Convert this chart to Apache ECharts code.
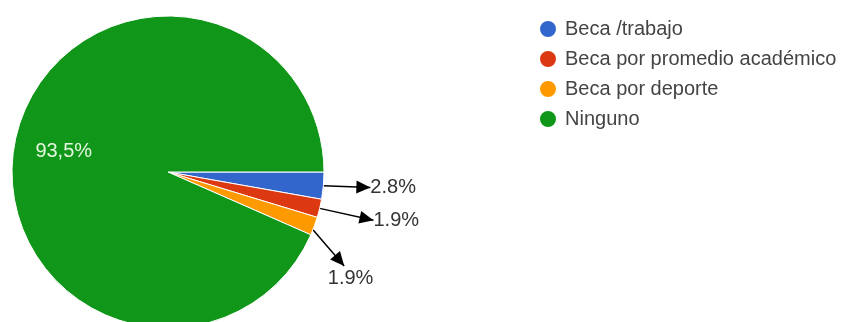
<!DOCTYPE html>
<html><head><meta charset="utf-8">
<script src="https://cdn.jsdelivr.net/npm/echarts@6/dist/echarts.min.js"></script>
<style>html,body{margin:0;padding:0;background:#fff}#c{width:851px;height:322px}</style>
</head><body><div id="c"></div>
<script>
const categories = ['Beca /trabajo', 'Beca por promedio académico', 'Beca por deporte', 'Ninguno'];
const percents = [2.8, 1.9, 1.9, 93.5];
const decimalSeparators = ['.', '.', '.', ','];
const colors = ['#3366cc', '#dc3912', '#ff9900', '#109618'];

const FONT = "'Liberation Sans', Arial, sans-serif";
const chart = echarts.init(document.getElementById('c'), null, {renderer: 'canvas'});

// label offsets (style only, relative to library-computed label rects)
const labelShift = [[28, 1], [35, 10], [1, 50], [-25, -4]];

const data = categories.map((name, i) => {
  const item = {name: name, value: percents[i], itemStyle: {color: colors[i]}};
  if (i === 3) {
    item.label = {position: 'inside', color: '#e4f6df', fontSize: 20};
    item.labelLine = {show: false};
  } else if (i === 2) {
    item.labelLine = {show: false};
  } else {
    item.label = {padding: [0, 0, 0, 3]};
  }
  return item;
});

chart.setOption({
  animation: false,
  backgroundColor: '#fff',
  legend: {
    orient: 'vertical', left: 533, top: 14,
    icon: 'circle', itemWidth: 24, itemHeight: 18, itemGap: 10,
    textStyle: {fontFamily: FONT, fontSize: 20, color: '#444'},
    data: categories
  },
  series: [{
    type: 'pie',
    center: [168, 172],
    radius: 156,
    startAngle: 0,
    clockwise: true,
    avoidLabelOverlap: false,
    itemStyle: {borderColor: '#fff', borderWidth: 1},
    label: {
      position: 'outside', fontFamily: FONT, fontSize: 20, color: '#333',
      distanceToLabelLine: 5,
      formatter: p => p.value.toFixed(1).replace('.', decimalSeparators[p.dataIndex]) + '%'
    },
    labelLine: {show: true, length: 8, length2: 0, lineStyle: {color: '#000', width: 1.5}},
    labelLayout: function (params) {
      const s = labelShift[params.dataIndex];
      const r = params.labelRect;
      return {x: r.x + s[0], y: r.y + s[1], align: 'left', verticalAlign: 'top'};
    },
    data: data
  }]
});

function arrowHead(end, prev) {
  const ang = Math.atan2(end[1] - prev[1], end[0] - prev[0]);
  const L = 14, W = 6.5;
  const bx = end[0] - L * Math.cos(ang), by = end[1] - L * Math.sin(ang);
  return {
    type: 'polygon', silent: true,
    shape: {points: [
      [end[0], end[1]],
      [bx + W * Math.sin(ang), by - W * Math.cos(ang)],
      [bx - W * Math.sin(ang), by + W * Math.cos(ang)]
    ]},
    style: {fill: '#000'}
  };
}

let arrowsDone = false;
function addArrows() {
  if (arrowsDone) return;
  const graphics = [];
  try {
    const sData = chart.getModel().getSeriesByIndex(0).getData();
    for (let i = 0; i < 3; i++) {
      const el = sData.getItemGraphicEl(i);
      if (!el) continue;
      if (i === 2) {
        // straight guide from the slice's outer arc to the top of its label
        const sh = el.shape;
        const a = sh.startAngle + 0.7 * (sh.endAngle - sh.startAngle);
        const p0 = [sh.cx + sh.r * Math.cos(a), sh.cy + sh.r * Math.sin(a)];
        const label = el.getTextContent();
        const rect = label.getBoundingRect().clone();
        rect.applyTransform(label.getComputedTransform());
        const p1 = [rect.x + rect.width * 0.36, rect.y - 3];
        graphics.push({type: 'polyline', silent: true, shape: {points: [p0, p1]},
          style: {stroke: '#000', lineWidth: 1.5, fill: null}});
        graphics.push(arrowHead(p1, p0));
        continue;
      }
      const line = el.getTextGuideLine ? el.getTextGuideLine() : null;
      if (!line) continue;
      const pts = line.shape && line.shape.points;
      if (!pts || pts.length < 2) continue;
      const end = pts[pts.length - 1];
      let k = pts.length - 2;
      while (k > 0 && Math.abs(pts[k][0] - end[0]) < 0.5 && Math.abs(pts[k][1] - end[1]) < 0.5) k--;
      graphics.push(arrowHead(end, pts[k]));
    }
  } catch (e) { /* ignore */ }
  arrowsDone = true;
  chart.setOption({graphic: graphics});
}
addArrows();
</script></body></html>
